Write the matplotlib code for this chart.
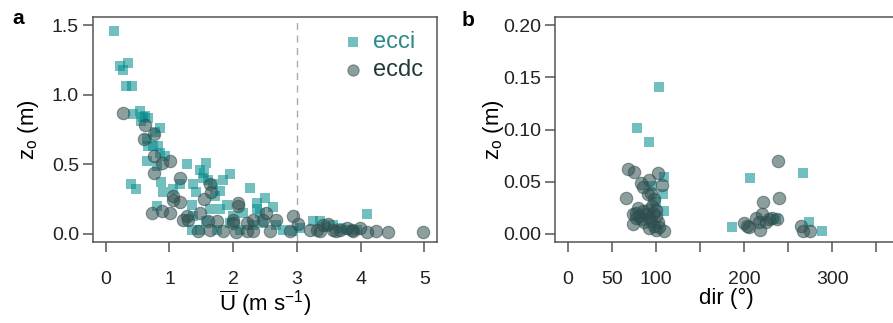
import matplotlib.pyplot as plt
import numpy as np

plt.rcParams['font.family'] = ['Liberation Sans', 'DejaVu Sans']
plt.rcParams['mathtext.fontset'] = 'custom'
plt.rcParams['mathtext.rm'] = 'Liberation Sans'
plt.rcParams['mathtext.it'] = 'Liberation Sans'

# panel a : z0 vs mean wind speed
ecci_u = [0.13, 0.23, 0.27, 0.35, 0.32, 0.42, 0.43, 0.53, 0.58, 0.62, 0.66, 0.56, 0.85, 0.77,
          0.64, 0.66, 0.74, 0.82, 0.85, 0.93, 0.64, 0.80, 1.27, 0.40, 0.48, 0.87, 0.90, 0.80,
          1.06, 1.16, 1.37, 1.42, 1.48, 1.58, 1.55, 1.53, 1.60, 1.69, 1.71, 1.84, 1.95, 1.79,
          2.26, 2.50, 2.37, 2.37, 1.35, 1.63, 1.79, 1.90, 2.00, 2.16, 2.42, 2.63, 1.35, 1.48,
          1.74, 2.10, 2.31, 2.79, 2.94, 3.05, 3.26, 3.36, 3.57, 4.10, 3.78, 1.37, 1.58, 1.95,
          2.47, 2.68, 3.45, 3.70, 3.95]
ecci_z = [1.457, 1.21, 1.18, 1.23, 1.06, 1.06, 0.86, 0.88, 0.84, 0.85, 0.83, 0.81, 0.76, 0.73,
          0.68, 0.63, 0.63, 0.63, 0.58, 0.56, 0.52, 0.49, 0.50, 0.36, 0.32, 0.37, 0.30, 0.20,
          0.32, 0.36, 0.36, 0.30, 0.46, 0.51, 0.44, 0.40, 0.39, 0.36, 0.27, 0.39, 0.43, 0.31,
          0.33, 0.26, 0.22, 0.18, 0.21, 0.18, 0.18, 0.21, 0.13, 0.15, 0.15, 0.19, 0.03, 0.03,
          0.03, 0.03, 0.06, 0.03, 0.02, 0.04, 0.09, 0.09, 0.06, 0.14, 0.03, 0.13, 0.09, 0.08,
          0.08, 0.06, 0.05, 0.04, 0.03]

ecdc_u = [0.27, 0.61, 0.60, 0.75, 0.75, 0.88, 1.01, 0.75, 0.72, 0.88, 1.01, 1.06, 1.06, 1.16,
          1.16, 1.27, 1.29, 1.48, 1.55, 1.63, 1.66, 1.60, 1.74, 2.00, 2.08, 2.08, 2.00, 2.21,
          2.31, 2.47, 2.52, 2.68, 2.58, 2.31, 2.21, 2.05, 1.84, 1.63, 1.45, 2.94, 3.02, 2.89,
          3.20, 3.31, 3.41, 3.49, 3.57, 3.68, 3.78, 3.86, 3.99, 4.10, 4.24, 4.43, 4.98, 3.36,
          3.62, 3.88, 1.21]
ecdc_z = [0.87, 0.78, 0.68, 0.72, 0.56, 0.51, 0.52, 0.44, 0.15, 0.16, 0.15, 0.27, 0.24, 0.23,
          0.40, 0.13, 0.10, 0.15, 0.25, 0.36, 0.30, 0.09, 0.09, 0.10, 0.20, 0.22, 0.08, 0.08,
          0.10, 0.10, 0.15, 0.10, 0.02, 0.02, 0.02, 0.01, 0.02, 0.03, 0.02, 0.13, 0.07, 0.02,
          0.03, 0.03, 0.06, 0.07, 0.03, 0.03, 0.04, 0.03, 0.04, 0.01, 0.02, 0.01, 0.01, 0.02,
          0.02, 0.02, 0.10]

# panel b : z0 vs wind direction
ecci_dir = [103.8, 78.1, 92.5, 109.4, 107.5, 109.4, 206.8, 186.8, 266.8, 273.6, 287.9, 235.8,
            96.0, 100.0]
ecci_zb = [0.141, 0.101, 0.088, 0.054, 0.038, 0.022, 0.053, 0.006, 0.058, 0.011, 0.003, 0.014,
           0.046, 0.030]

ecdc_dir = [66.0, 67.9, 75.5, 73.6, 83.0, 84.9, 92.5, 90.6, 94.3, 98.1, 101.9, 106.8, 109.4,
            100.0, 92.5, 77.4, 81.1, 84.9, 88.7, 92.5, 96.2, 100.0, 79.2, 90.6, 94.3, 101.9,
            83.0, 86.8, 98.1, 103.8, 77.4, 73.6, 100.0, 96.0,
            200.0, 205.7, 213.2, 217.7, 221.5, 220.8, 224.5, 228.3, 232.1, 239.6, 238.9, 217.0,
            237.0, 264.0, 266.8, 274.3, 203.8]
ecdc_zb = [0.034, 0.062, 0.059, 0.009, 0.049, 0.045, 0.052, 0.038, 0.039, 0.033, 0.058, 0.047,
           0.003, 0.004, 0.005, 0.020, 0.017, 0.022, 0.019, 0.015, 0.020, 0.017, 0.025, 0.023,
           0.012, 0.011, 0.014, 0.011, 0.007, 0.006, 0.015, 0.019, 0.023, 0.027,
           0.010, 0.006, 0.015, 0.004, 0.030, 0.019, 0.011, 0.014, 0.015, 0.034, 0.070, 0.011,
           0.014, 0.007, 0.003, 0.003, 0.007]

c_ecci = '#008b8b'
c_ecdc = '#2f4f4f'
spine_c = '#555555'

W, H = 893, 323
fig = plt.figure(figsize=(W / 100, H / 100), dpi=100)
ax1 = fig.add_axes([93 / W, (H - 242) / H, (437 - 93) / W, (242 - 17) / H])
ax2 = fig.add_axes([555 / W, (H - 242) / H, 343 / W, (242 - 17) / H])


def style(ax):
    for s in ax.spines.values():
        s.set_color(spine_c)
        s.set_linewidth(1.1)
    ax.tick_params(axis='both', colors=spine_c, labelcolor='#222222', labelsize=14,
                   length=7, width=1.1)
    ax.tick_params(axis='x', pad=14)
    ax.tick_params(axis='y', pad=3)


# a
ax1.axvline(3, color='#aaaaaa', lw=1, ls=(0, (5, 4)), zorder=1)
ax1.scatter(ecci_u, ecci_z, marker='s', s=56, color=c_ecci, alpha=0.55, lw=0, zorder=2,
            label='ecci')
ax1.scatter(ecdc_u, ecdc_z, marker='o', s=80, facecolor=c_ecdc, edgecolor=c_ecdc, alpha=0.55,
            lw=0.8, zorder=3, label='ecdc')
ax1.set_xlim(-0.2, 5.2)
ax1.set_ylim(-0.06, 1.56)
ax1.set_xticks(range(0, 6))
ax1.set_yticks([0, 0.5, 1.0, 1.5])
ax1.set_yticklabels(['0.0', '0.5', '1.0', '1.5'])
ax1.set_xlabel(r'$\overline{\mathrm{U}}$ (m s$^{-1}$)', fontsize=16, labelpad=0)
ax1.set_ylabel(r'z$_\mathrm{o}$ (m)', fontsize=16, labelpad=8)
style(ax1)
leg = ax1.legend(loc='upper right', frameon=False, fontsize=17, handletextpad=0.35,
                 handlelength=1.0, labelspacing=0.25, borderaxespad=0.2, markerscale=0.9,
                 labelcolor=['#2a8a8a', '#233a3a'])

# b
ax2.scatter(ecci_dir, ecci_zb, marker='s', s=56, color=c_ecci, alpha=0.55, lw=0, zorder=2)
ax2.scatter(ecdc_dir, ecdc_zb, marker='o', s=80, facecolor=c_ecdc, edgecolor=c_ecdc, alpha=0.55,
            lw=0.8, zorder=3)
ax2.set_xlim(-14.4, 374.4)
ax2.set_ylim(-0.008, 0.208)
ax2.set_xticks(np.arange(0, 351, 50))
ax2.set_xticklabels(['0', '50', '100', '', '200', '', '300', ''])
ax2.set_yticks([0, 0.05, 0.10, 0.15, 0.20])
ax2.set_yticklabels(['0.00', '0.05', '0.10', '0.15', '0.20'])
ax2.set_xlabel('dir (°)', fontsize=16, labelpad=0)
ax2.set_ylabel(r'z$_\mathrm{o}$ (m)', fontsize=16, labelpad=-2)
style(ax2)

fig.text(18 / W, 1 - 18 / H, 'a', fontsize=15, fontweight='bold', ha='center', va='center')
fig.text(468 / W, 1 - 20 / H, 'b', fontsize=15, fontweight='bold', ha='center', va='center')

fig.savefig('out.png', dpi=100)
